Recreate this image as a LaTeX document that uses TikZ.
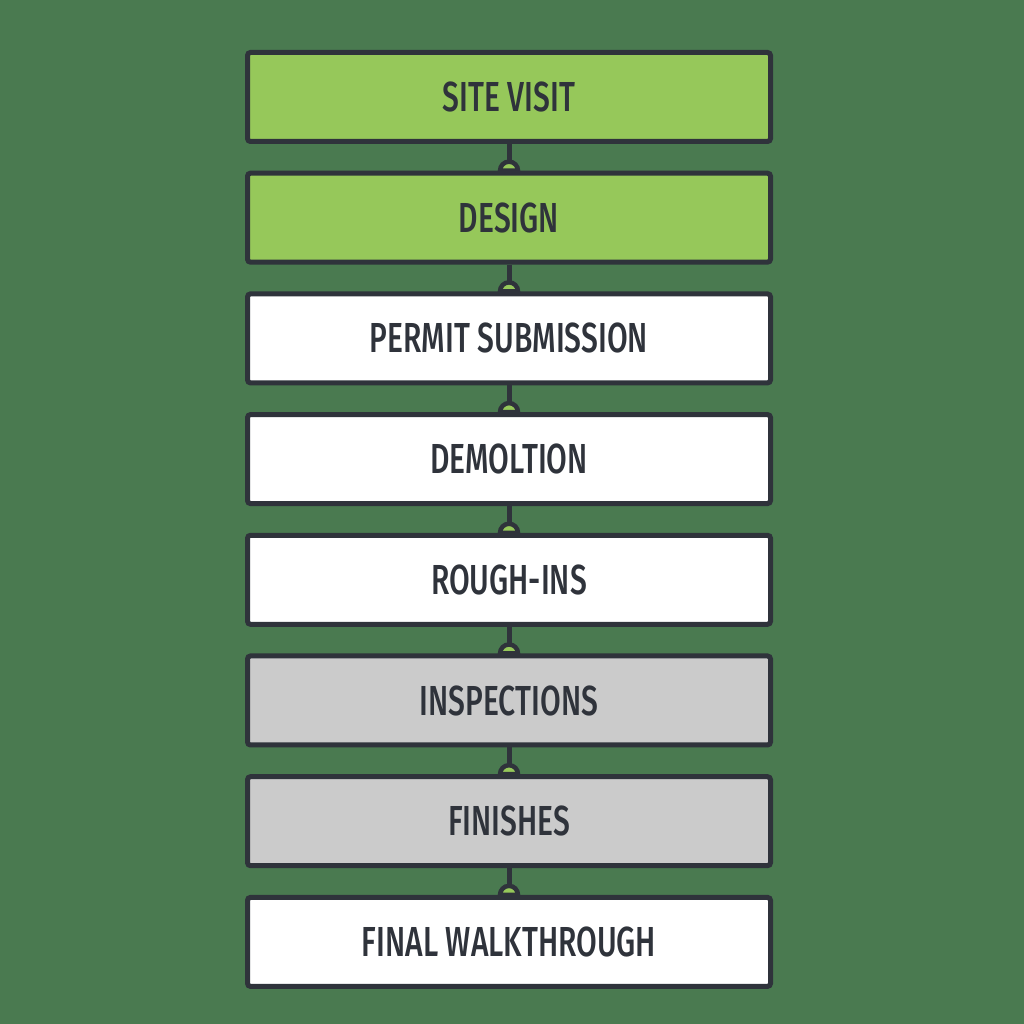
\documentclass[tikz,border=0pt]{standalone}
\usepackage{fontspec}
\usepackage{tikz}
\newfontfamily\stepfont[FakeStretch=0.715, BoldFont={* Medium}]{Fira Sans}
\definecolor{bg}{HTML}{4A7A50}
\definecolor{leaf}{HTML}{96C85A}
\definecolor{shade}{HTML}{CBCBCB}
\definecolor{edge}{HTML}{2F333B}

\begin{document}
\begin{tikzpicture}[x=1pt,y=1pt,
	stepbox/.style={draw=edge, line width=5pt, rounded corners=3pt, minimum width=523pt, minimum height=89pt, inner sep=0pt, text=edge, font=\stepfont\bfseries\fontsize{42}{42}\selectfont},
	link/.style={draw=edge, line width=5pt},
	dome/.style={draw=edge, fill=leaf, line width=4.5pt}]
		% Hintergrund
		\fill[bg] (0,0) rectangle (1024,1024);
		
		% Arbeitsschritte von oben nach unten
		\foreach \name/\txt/\col [count=\i from 0] in {visit/SITE VISIT/leaf, design/DESIGN/leaf, permit/PERMIT SUBMISSION/white, demo/DEMOLTION/white, rough/ROUGH-INS/white, insp/INSPECTIONS/shade, finish/FINISHES/shade, walk/FINAL WALKTHROUGH/white}
		\node[stepbox, fill=\col] (\name) at (509,{1024-97-120.7*\i}) {\txt};
		
		% Verbindungen mit Halbkreis oben am naechsten Kasten
		\foreach \a/\b in {visit/design, design/permit, permit/demo, demo/rough, rough/insp, insp/finish, finish/walk}
		{
			\draw[link] (\a.south) -- (\b.north);
			\draw[dome] ([xshift=-9pt]\b.north) arc[start angle=180, end angle=0, radius=9pt] -- cycle;
		}
		
	\end{tikzpicture}
\end{document}
